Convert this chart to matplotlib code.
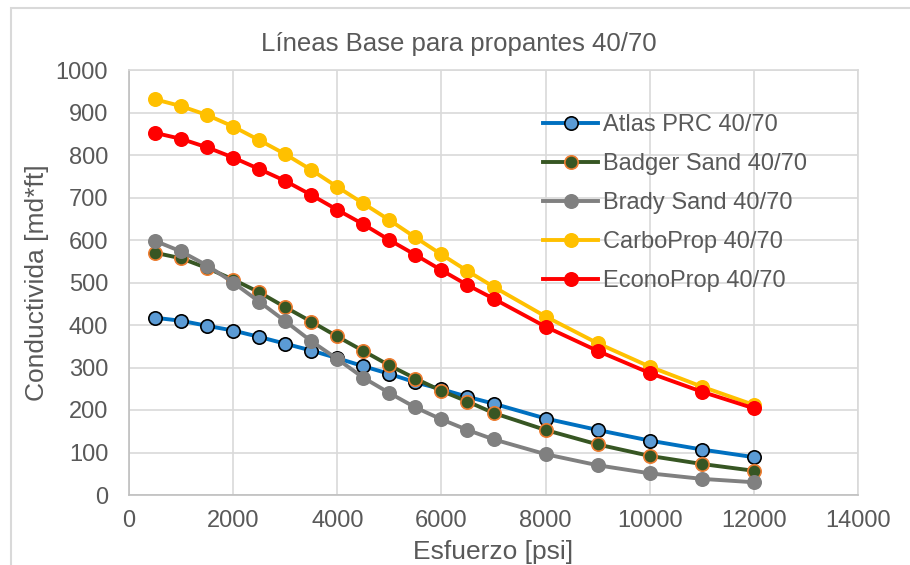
import matplotlib.pyplot as plt
from matplotlib.patches import Rectangle

plt.rcParams['font.family'] = ['Liberation Sans', 'DejaVu Sans']

# esfuerzo (psi)
esfuerzo = [500, 1000, 1500, 2000, 2500, 3000, 3500, 4000, 4500, 5000,
            5500, 6000, 6500, 7000, 8000, 9000, 10000, 11000, 12000]

# conductividad (md*ft)
atlas = [417, 410, 398, 387, 372, 356, 340, 322, 303, 285,
         265, 249, 231, 215, 180, 153, 128, 107, 89]
badger = [570, 557, 534, 507, 477, 442, 408, 373, 339, 305,
          274, 245, 220, 193, 153, 119, 92, 73, 57]
brady = [598, 573, 540, 500, 455, 409, 362, 320, 276, 240,
         206, 178, 153, 131, 96, 70, 51, 38, 30]
carbo = [931, 915, 894, 867, 835, 802, 765, 725, 686, 647,
         606, 566, 527, 490, 420, 357, 302, 255, 212]
econo = [852, 838, 818, 794, 767, 739, 706, 671, 637, 600,
         565, 529, 494, 462, 396, 339, 287, 243, 204]

labels = ['Atlas PRC 40/70', 'Badger Sand 40/70', 'Brady Sand 40/70',
          'CarboProp 40/70', 'EconoProp 40/70']
series = [atlas, badger, brady, carbo, econo]
line_colors = ['#0070C0', '#375623', '#808080', '#FFC000', '#FF0000']
face_colors = ['#5B9BD5', '#375623', '#808080', '#FFC000', '#FF0000']
edge_colors = ['#000000', '#ED7D31', '#808080', '#FFC000', '#FF0000']

txt = '#595959'
grid = '#D9D9D9'

fig = plt.figure(figsize=(9.1, 5.65), dpi=100)
ax = fig.add_axes([129/910, 1 - 495/565, (858-129)/910, (495-70)/565])

# marco exterior del grafico
fig.patches.append(Rectangle((11/910, -0.1), 1.2, 1 - 8/565 + 0.1,
                             transform=fig.transFigure, fill=False,
                             edgecolor=grid, linewidth=1.5))

for vals, lab, lc, fc, ec in zip(series, labels, line_colors, face_colors, edge_colors):
    ax.plot(esfuerzo, vals, color=lc, linewidth=2.8, marker='o', markersize=9.6,
            markerfacecolor=fc, markeredgecolor=ec, markeredgewidth=1.2,
            label=lab, zorder=3)

ax.set_xlim(0, 14000)
ax.set_ylim(0, 1000)
ax.set_xticks(range(0, 14001, 2000))
ax.set_yticks(range(0, 1001, 100))
ax.grid(True, color=grid, linewidth=1.2)
ax.set_axisbelow(True)
for s in ax.spines.values():
    s.set_color(grid)
    s.set_linewidth(1.2)
ax.spines['left'].set_color('#BFBFBF')
ax.spines['bottom'].set_color('#BFBFBF')
ax.tick_params(length=0, labelsize=17, labelcolor=txt)
ax.tick_params(axis='y', pad=15)
ax.tick_params(axis='x', pad=11)

ax.set_xlabel('Esfuerzo [psi]', fontsize=19, color=txt)
ax.set_ylabel('Conductivida [md*ft]', fontsize=19, color=txt)
ax.xaxis.set_label_coords(0.5, (495-540)/425)
ax.yaxis.set_label_coords((49-129)/729, 0.5)

fig.text(459/910, 1 - 44/565, 'Líneas Base para propantes 40/70',
         fontsize=18.5, color=txt, ha='center', va='center')

ax.legend(loc='upper left', bbox_to_anchor=(543/910, 1 - 114/565),
          bbox_transform=fig.transFigure, frameon=False, fontsize=17,
          labelcolor=txt, handlelength=2.35, handletextpad=0.2,
          labelspacing=0.72, borderpad=0, borderaxespad=0)

fig.savefig('out.png', dpi=100, facecolor='white')
